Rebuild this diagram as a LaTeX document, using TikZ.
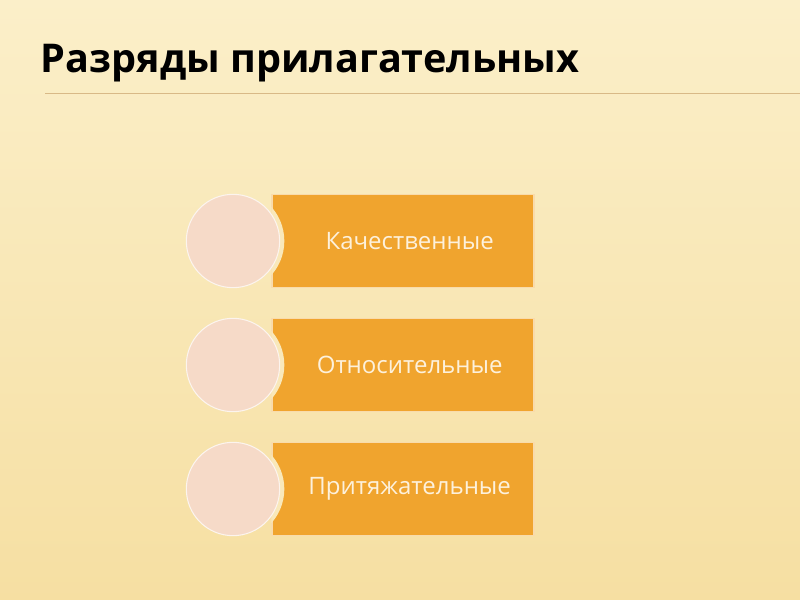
\documentclass[tikz,border=0pt]{standalone}
\usepackage{fontspec}
\setmainfont{Open Sans}
\usepackage{tikz}
\definecolor{bgtop}{HTML}{FBEFC9}
\definecolor{bgbot}{HTML}{F6DFA2}
\definecolor{gap}{HTML}{F9E8BA}
\definecolor{rule}{HTML}{D8B987}
\definecolor{boxfill}{HTML}{F0A42E}
\definecolor{circfill}{HTML}{F6DAC8}
\definecolor{boxtext}{HTML}{FDF1DC}

\begin{document}
\begin{tikzpicture}[x=0.75pt,y=-0.75pt,
    kind/.style = {draw=white!60!boxfill, line width=0.8pt, fill=boxfill, minimum width=196.5pt, minimum height=70pt, text=boxtext, font=\fontsize{18}{21}\selectfont, inner sep=0pt},
    bullet/.style = {draw=white!70!circfill, line width=0.8pt, fill=circfill, circle, minimum size=70pt, inner sep=0pt}]
        \shade[top color=bgtop, bottom color=bgbot] (0,0) rectangle (800,600);
        \useasboundingbox (0,0) rectangle (800,600);
        \node[anchor=base west, font=\fontsize{29.7}{36}\selectfont\bfseries] (title) at (36,72) {Разряды прилагательных};
        \coordinate (rl) at (45,93);
        \coordinate (rr) at (800,93);
        \draw[rule, line width=0.7pt] (rl) -- (rr);
        \node[kind] (q) at (403,241) {\hspace*{10pt}Качественные};
        \node[kind] (r) at (403,365) {\hspace*{10pt}Относительные};
        \node[kind] (p) at (403,489) {\hspace*{10pt}Притяжательные};
        \foreach \b in {q,r,p} {
            \begin{scope}
                \clip (\b.south west) rectangle (\b.north east);
                \fill[gap] ([xshift=-127.5pt]\b.center) circle (38.5pt);
            \end{scope}
        }
        \node[bullet] (cq) at (233,241) {};
        \node[bullet] (cr) at (233,365) {};
        \node[bullet] (cp) at (233,489) {};
\end{tikzpicture}
\end{document}
